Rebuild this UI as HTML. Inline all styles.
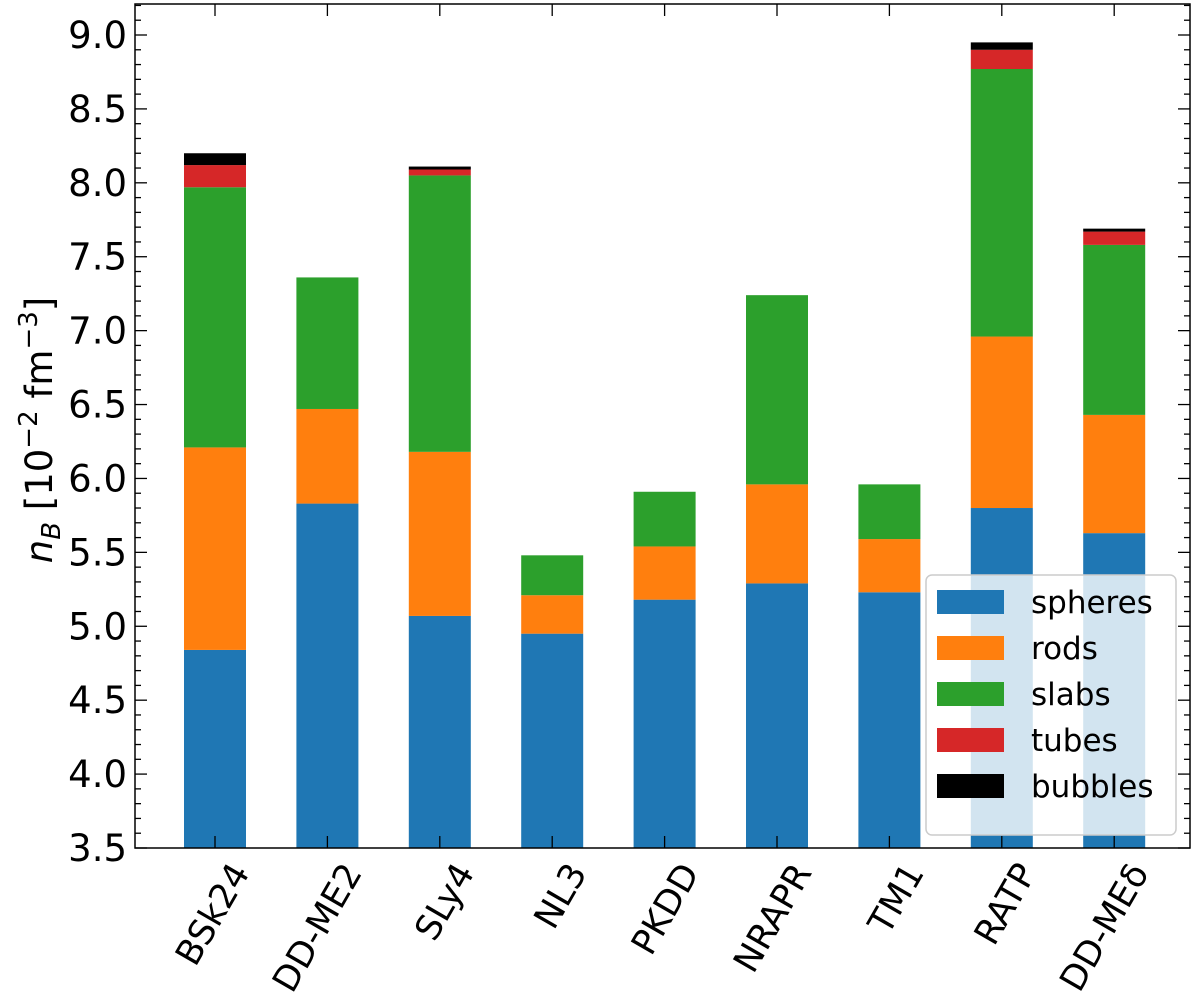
<!DOCTYPE html>
<html><head><meta charset="utf-8"><style>
body{margin:0;background:#fff;}
svg text{font-family:"DejaVu Sans","Liberation Sans",sans-serif;fill:#000;}
</style></head><body>
<svg id="chart" width="1200" height="997" xmlns="http://www.w3.org/2000/svg"></svg>
<script>
const categories=["BSk24","DD-ME2","SLy4","NL3","PKDD","NRAPR","TM1","RATP","DD-MEδ"];
const seriesNames=["spheres","rods","slabs","tubes","bubbles"];
const colors=["#1f77b4","#ff7f0e","#2ca02c","#d62728","#000000"];
// cumulative tops per series
const spheres=[4.84,5.83,5.07,4.95,5.18,5.29,5.23,5.80,5.63];
const rods=[6.21,6.47,6.18,5.21,5.54,5.96,5.59,6.96,6.43];
const slabs=[7.97,7.36,8.05,5.48,5.91,7.24,5.96,8.77,7.58];
const tubes=[8.12,7.36,8.09,5.48,5.91,7.24,5.96,8.90,7.67];
const bubbles=[8.20,7.36,8.11,5.48,5.91,7.24,5.96,8.95,7.69];
const yTicks=["3.5","4.0","4.5","5.0","5.5","6.0","6.5","7.0","7.5","8.0","8.5","9.0"];
const base=3.5;

const svg=document.getElementById('chart');
const NS="http://www.w3.org/2000/svg";
function mk(t,a,p){const e=document.createElementNS(NS,t);for(const k in a)e.setAttribute(k,a[k]);(p||svg).appendChild(e);return e;}
const L=135,R=1190,T=4,B=848;
function y(v){return B-(v-3.5)*(B-35)/5.5;}
function x(i){return 215+i*112.4;}
const bw=62;
const all=[spheres,rods,slabs,tubes,bubbles];
categories.forEach((c,i)=>{
  let prev=base;
  all.forEach((s,k)=>{
    const top=s[i];
    if(top>prev){
      const r=mk('rect',{x:x(i)-bw/2,y:y(top),width:bw,height:y(prev)-y(top),fill:colors[k]});
      
      
    }
    prev=Math.max(prev,top);
  });
});
const fr=mk('rect',{x:L,y:T,width:R-L,height:B-T,fill:'none',stroke:'#000','stroke-width':1.5});

for(let v=3.5;v<=9.21;v+=0.1){
  const vv=Math.round(v*10)/10;const major=Math.abs(vv*2-Math.round(vv*2))<1e-6;
  const len=major?12:6;
  mk('line',{x1:L,x2:L+len,y1:y(vv),y2:y(vv),stroke:'#000','stroke-width':1.3});
  mk('line',{x1:R,x2:R-len,y1:y(vv),y2:y(vv),stroke:'#000','stroke-width':1.3});
}
yTicks.forEach(t=>{
  const e=mk('text',{x:L-8,y:y(parseFloat(t))+13,'text-anchor':'end','font-size':37});
  e.textContent=t;
});
categories.forEach((c,i)=>{
  mk('line',{x1:x(i),x2:x(i),y1:B,y2:B-12,stroke:'#000','stroke-width':1.3});
  mk('line',{x1:x(i),x2:x(i),y1:T,y2:T+12,stroke:'#000','stroke-width':1.3});
  const e=mk('text',{x:x(i)+14,y:B+12,'text-anchor':'end','font-size':35,transform:`rotate(-60 ${x(i)+14} ${B+12})`,'dominant-baseline':'hanging'});
  e.textContent=c;
});
const yl=mk('text',{x:52,y:430,'text-anchor':'middle','font-size':37,transform:'rotate(-90 52 430)'});
yl.innerHTML='<tspan font-style="italic">n</tspan><tspan font-style="italic" font-size="26" dy="8">B</tspan><tspan dy="-8"> [10</tspan><tspan font-size="26" dy="-15">−2</tspan><tspan dy="15"> fm</tspan><tspan font-size="26" dy="-15">−3</tspan><tspan dy="15">]</tspan>';

const lg=mk('g',{});
mk('rect',{x:926,y:575,width:250,height:260,rx:6,fill:'#fff','fill-opacity':0.8,stroke:'#ccc','stroke-width':1.5},lg);
seriesNames.forEach((n,k)=>{
  const yy=590+k*46;
  const r=mk('rect',{x:937,y:yy,width:67,height:24,fill:colors[k]},lg);
  
  const t=mk('text',{x:1031,y:yy+23,'font-size':31},lg);t.textContent=n;
  
});
</script></body></html>
